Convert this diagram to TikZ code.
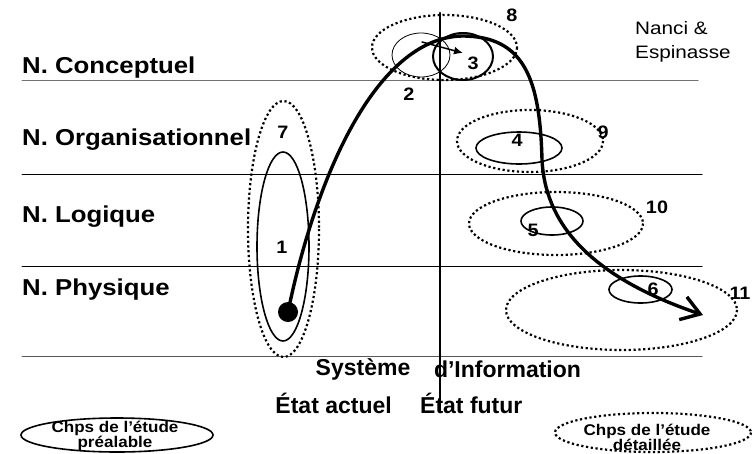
\documentclass[tikz,border=0pt]{standalone}
\usepackage{fontspec}
\setmainfont{Liberation Sans}
\newfontfamily\levelfont[FakeStretch=1.12]{Liberation Sans Bold}
\newfontfamily\numfont[FakeStretch=1.1]{Liberation Sans Bold}
\newfontfamily\sysfont{Liberation Sans Bold}
\newfontfamily\chpsfont[FakeStretch=1.1]{Liberation Sans Bold}
\newfontfamily\authfont[FakeStretch=1.15]{Liberation Sans}
\usetikzlibrary{arrows.meta}

\begin{document}
\begin{tikzpicture}[
			x=1pt, y=-1pt,
			line cap=round,
			line join=round,
			level/.style={anchor=west, inner sep=0pt, font=\levelfont\fontsize{23}{26}\selectfont},
			num/.style={inner sep=0pt, font=\numfont\fontsize{18}{20}\selectfont},
			sys/.style={inner sep=0pt, font=\sysfont\fontsize{23}{26}\selectfont},
			chps/.style={inner sep=0pt, align=center, font=\chpsfont\fontsize{15.5}{15}\selectfont},
			zone/.style={line width=2.2pt, line cap=butt, dash pattern=on 2.2pt off 2.6pt},
			field/.style={line width=1.6pt}
			]
			\useasboundingbox (0,0) rectangle (755,453);
			
			% Levels
			\draw[line width=1pt, black!55] (22,80) -- (698,80);
			\draw[line width=1pt] (22,174) -- (702,174);
			\draw[line width=1pt] (22,266) -- (702,266);
			\draw[line width=1pt, black!65] (22,356) -- (702,356);
			\node[level] (conceptuel) at (22,68) {N. Conceptuel};
			\node[level] (organisationnel) at (22,140) {N. Organisationnel};
			\node[level] (logique) at (22,217) {N. Logique};
			\node[level] (physique) at (22,290) {N. Physique};
			
			\node[anchor=north west, align=left, inner sep=0pt,
				font=\authfont\fontsize{18}{24}\selectfont] (auteurs) at (635,21) {Nanci \&\\Espinasse};
			
			% Etat actuel
			\draw[zone] (283.5,229) ellipse (35.5 and 128);
			\draw[field] (283,246.5) ellipse (26 and 94.5);
			\node[num] (n7) at (283,132) {7};
			\node[num] (n1) at (282,247) {1};
			
			% Conceptuel
			\draw[zone] (444.5,47.5) ellipse (72.5 and 32.5);
			\draw[line width=0.8pt] (421,55) ellipse (29 and 22);
			\draw[line width=2pt] (463,56.5) ellipse (30 and 23.5);
			\node[num] (n8) at (512,15) {8};
			\node[num] (n2) at (409,94) {2};
			\node[num] (n3) at (473,63) {3};
			
			% Etat futur
			\draw[zone] (530,141) ellipse (73 and 31);
			\draw[field] (519,148) ellipse (43 and 16);
			\node[num] (n4) at (517,140) {4};
			\node[num] (n9) at (603,132) {9};
			\draw[zone] (556,223.5) ellipse (87 and 31.5);
			\draw[field] (552,221) ellipse (31 and 14);
			\node[num] (n5) at (533,230) {5};
			\node[num] (n10) at (657,207) {10};
			\draw[zone] (621.5,310) ellipse (115.5 and 40);
			\draw[field] (640.5,289.5) ellipse (31.5 and 13.5);
			\node[num] (n6) at (653,289) {6};
			\node[num] (n11) at (740,293) {11};
			
			% Demarche
			\node[circle, fill, inner sep=0pt, minimum size=20pt] (depart) at (288,312) {};
			\coordinate (sommet) at (462,36);
			\coordinate (virage) at (542,160);
			\coordinate (arrivee) at (703,315);
			\draw[line width=3.4pt, -{Straight Barb[length=18pt, width=24pt]}] (depart.center)
				.. controls (315,180) and (375,38) .. (sommet)
				.. controls (525,36) and (540,80) .. (virage)
				.. controls (545,220) and (585,275) .. (arrivee);
			\coordinate (p2) at (422,42);
			\coordinate (p3) at (463,53);
			\draw[line width=1.5pt, -{Latex[length=9pt, width=8pt]}] (p2) -- (p3);
			
			% Systeme d'information
			\node[sys] (systeme) at (363,369) {Système};
			\node[sys] (information) at (507.5,369) {d’Information};
			\node[sys, anchor=east] (actuel) at (392,403) {État actuel};
			\node[sys, anchor=west] (futur) at (420,403) {État futur};
			\draw[line width=2.8pt] (440,13) -- (440,412);
			
			% Legende
			\draw[field] (117,435) ellipse (96 and 17);
			\node[chps] (prealable) at (115,436) {Chps de l’étude\\préalable};
			\draw[zone] (653,432.5) ellipse (98 and 19.5);
			\node[chps] (detaillee) at (647,437) {Chps de l’étude\\détaillée};
		\end{tikzpicture}
\end{document}
